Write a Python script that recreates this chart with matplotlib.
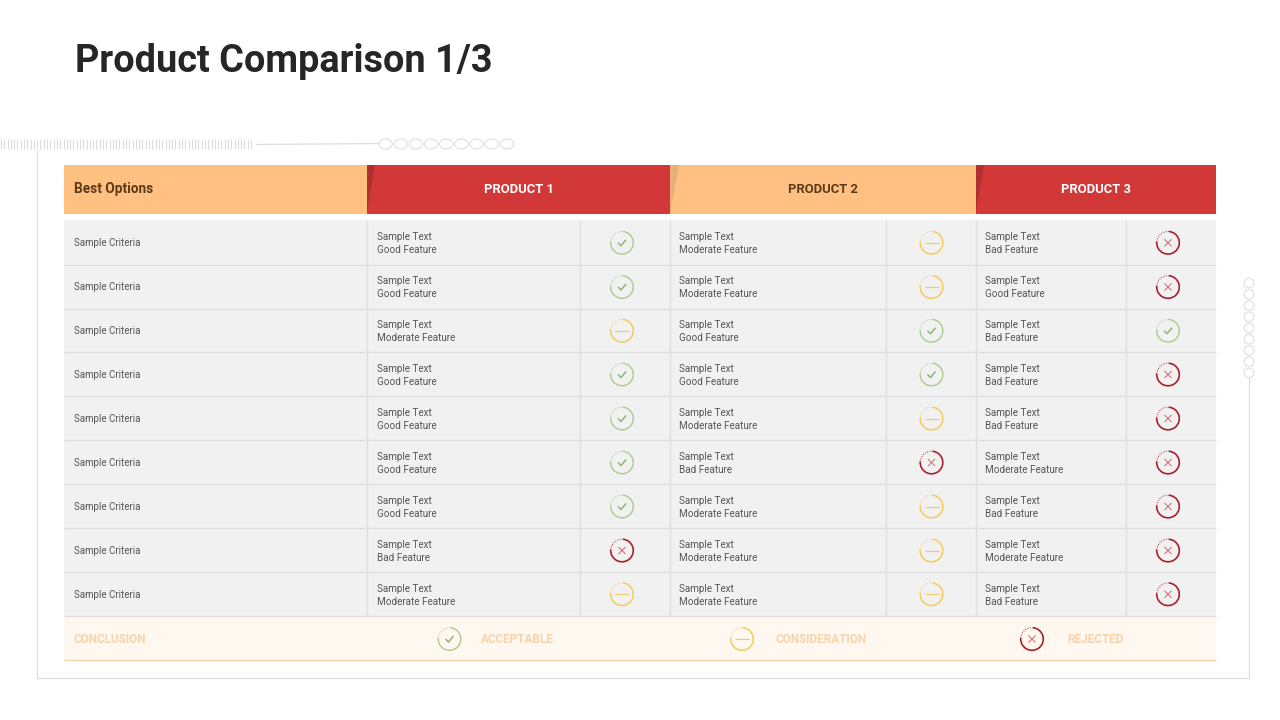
import matplotlib
matplotlib.use("Agg")
import matplotlib.pyplot as plt
from matplotlib.patches import Rectangle, Polygon, Arc, Ellipse, Circle

plt.rcParams["lines.solid_capstyle"] = "butt"
FONT = 'Roboto'

title = "Product Comparison 1/3"
corner = "Best Options"
products = ["PRODUCT 1", "PRODUCT 2", "PRODUCT 3"]
criteria = ["Sample Criteria"] * 9
p1_text = ["Good", "Good", "Moderate", "Good", "Good", "Good", "Good", "Bad", "Moderate"]
p2_text = ["Moderate", "Moderate", "Good", "Good", "Moderate", "Bad", "Moderate", "Moderate", "Moderate"]
p3_text = ["Bad", "Good", "Bad", "Bad", "Bad", "Moderate", "Bad", "Moderate", "Bad"]
p1_icon = ["yes", "yes", "mid", "yes", "yes", "yes", "yes", "no", "mid"]
p2_icon = ["mid", "mid", "yes", "yes", "mid", "no", "mid", "mid", "mid"]
p3_icon = ["no", "no", "yes", "no", "no", "no", "no", "no", "no"]
legend = [("yes", "ACCEPTABLE"), ("mid", "CONSIDERATION"), ("no", "REJECTED")]

ORANGE, RED = "#FFC082", "#D33838"
ICON = {"yes": ("#A8CC8A", "#8DB870", 1.0), "mid": ("#F3CC5C", "#F0CC70", 1.1), "no": ("#A8202E", "#D9606A", 1.2)}
LINE = "#DEDEDE"
MUTED = "#F8D2A8"

fig = plt.figure(figsize=(12.8, 7.2), dpi=100)
ax = fig.add_axes([0, 0, 1, 1])
ax.set_xlim(0, 1280)
ax.set_ylim(720, 0)
ax.axis("off")


def icon(cx, cy, kind, r=11.3):
    ring, mark, lw = ICON[kind]
    ax.add_patch(Arc((cx, cy), 2 * r, 2 * r, theta1=-85, theta2=185, ec=ring, lw=lw, zorder=4))
    ax.add_patch(Arc((cx, cy), 2 * r, 2 * r, theta1=185, theta2=275, ec=ring, lw=0.7, ls=(0, (1, 1.5)), zorder=4))
    if kind == "yes":
        ax.plot([cx - 4, cx - 1, cx + 4], [cy, cy + 3, cy - 3], color=mark, lw=1.1, zorder=4)
    elif kind == "mid":
        ax.plot([cx - 7, cx + 7], [cy, cy], color=mark, lw=0.9, zorder=4)
    else:
        ax.plot([cx - 3.5, cx + 3.5], [cy - 3.5, cy + 3.5], color=mark, lw=0.7, zorder=4)
        ax.plot([cx - 3.5, cx + 3.5], [cy + 3.5, cy - 3.5], color=mark, lw=0.7, zorder=4)


# decoration
ax.text(75, 72, title, fontsize=27.3, fontweight="bold", family=FONT, color="#262626", va="baseline", ha="left")
for i in range(77):
    x = 1 + i * 3.29
    ax.plot([x, x], [139, 149], color="#DDDDDD", lw=0.8)
ax.plot([256, 380], [144.5, 143.5], color=LINE, lw=0.9)
for i in range(9):
    ax.add_patch(Ellipse((385.5 + i * 15.2, 144), 13.5, 10, fc="white", ec=LINE, lw=0.8))
ax.plot([36.5, 36.5, 1249, 1249], [150, 678, 678, 378], color=LINE, lw=0.9)
for i in range(9):
    ax.add_patch(Circle((1249, 283 + i * 11.25), 4.8, fc="white", ec=LINE, lw=0.8))

# header
heads = [(64, 367, ORANGE), (367, 670, RED), (670, 976, ORANGE), (976, 1216, RED)]
for x0, x1, c in heads:
    ax.add_patch(Rectangle((x0, 165), x1 - x0, 48.5, fc=c, ec="none"))
for x0, w, col in [(367, 8, "#B23030"), (670, 9, "#E6AF78"), (976, 8, "#B23030")]:
    ax.add_patch(Polygon([(x0, 165), (x0 + w, 165), (x0, 213.5)], fc=col, ec="none"))
ax.text(74, 193, corner, fontsize=9.8, fontweight="bold", family=FONT, color="#5B3A17", va="baseline")
for (x0, x1, c), name in zip(heads[1:], products):
    ax.text((x0 + x1) / 2, 193, name, fontsize=9.4, fontweight="bold", family=FONT,
            color="white" if c == RED else "#5B3A17", va="baseline", ha="center")

# body
tops = [220, 264.5, 308.5, 352, 396, 440, 484, 528, 572, 615.5]
ax.add_patch(Rectangle((64, 220), 1152, 395.5, fc="#F1F1F1", ec="none"))
for y in tops[1:]:
    ax.plot([64, 1216], [y, y], color=LINE, lw=0.9, zorder=2)
for x in [366.5, 579.5, 669.5, 885.5, 975.5, 1125.5]:
    ax.plot([x, x], [220, 615.5], color=LINE, lw=0.9, zorder=2)

columns = [(377, 622, p1_text, p1_icon), (679, 931.5, p2_text, p2_icon), (985, 1168, p3_text, p3_icon)]
for r, crit in enumerate(criteria):
    cy = (tops[r] + tops[r + 1]) / 2
    ax.text(74, cy + 4, crit, fontsize=7, family=FONT, color="#555555", va="baseline")
    for tx, ix, texts, icons in columns:
        ax.text(tx, cy - 2, "Sample Text", fontsize=7.1, family=FONT, color="#555555", va="baseline")
        ax.text(tx, cy + 10.8, f"{texts[r]} Feature", fontsize=7.1, family=FONT, color="#555555", va="baseline")
        icon(ix, cy + 0.5, icons[r])

# conclusion
ax.add_patch(Rectangle((64, 615.5), 1152, 44, fc="#FFF8F1", ec="none"))
ax.plot([64, 1216], [659.5, 659.5], color="#F2CFA6", lw=0.9)
ax.text(74, 643, "CONCLUSION", fontsize=8.5, fontweight="bold", family=FONT, color=MUTED, va="baseline")
for (kind, label), ix, tx in zip(legend, [449.5, 742, 1032], [517.5, 821.5, 1095]):
    icon(ix, 639, kind)
    ax.text(tx, 643, label, fontsize=8.5, fontweight="bold", family=FONT, color=MUTED, va="baseline", ha="center")

fig.savefig("out.png", dpi=100)
